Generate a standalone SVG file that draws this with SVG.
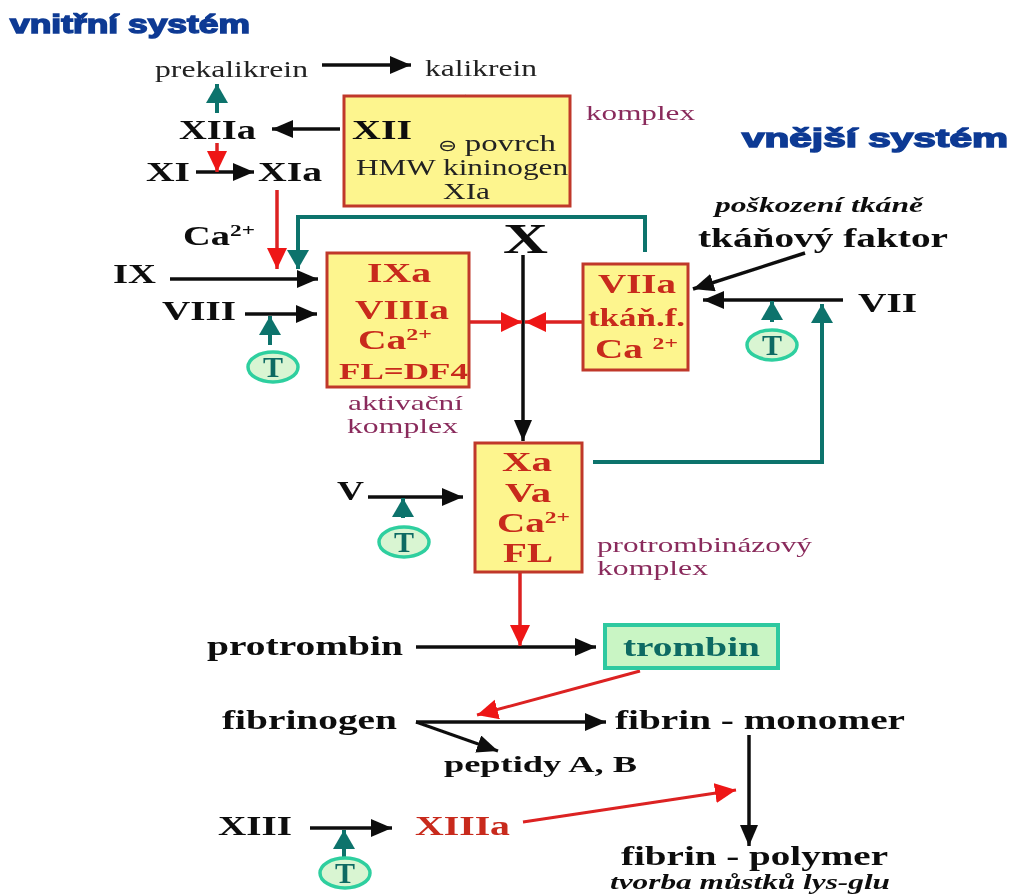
<svg xmlns="http://www.w3.org/2000/svg" width="1012" height="894" viewBox="0 0 1012 894">
<style>
text{font-family:"Liberation Serif","Times New Roman",serif;font-weight:bold;fill:#111}
.title{font-family:"Liberation Sans",Arial,sans-serif;font-weight:bold;fill:#0b3a94;stroke:#0b3a94;stroke-width:1.4}
.reg{font-weight:normal;font-size:23px;fill:#222}
.big{font-size:28px}
.red{fill:#c8291c;font-size:28px}
.lab{font-weight:normal;font-size:22px;fill:#8a2c5c}
.it{font-style:italic;font-size:21px}
.box{fill:#fdf58e;stroke:#c0392b;stroke-width:3}
.tc{fill:#d9f5d2;stroke:#2fcf9f;stroke-width:3.5}
.tt{fill:#0e6a63;font-size:30px}
.k,.r,.g{fill:none;stroke-width:3.5}
.k{stroke:#111;marker-end:url(#ak)}
.r{stroke:#dc2020;marker-end:url(#ar)}
.g{stroke:#11736c;stroke-width:4;marker-end:url(#ag)}
</style>
<defs>
<marker id="ak" markerUnits="userSpaceOnUse" markerWidth="24" markerHeight="20" refX="21" refY="9" orient="auto"><path d="M0 0L21 9L0 18z" fill="#111"/></marker>
<marker id="ar" markerUnits="userSpaceOnUse" markerWidth="24" markerHeight="22" refX="21" refY="10" orient="auto"><path d="M0 0L21 10L0 20z" fill="#ee1515"/></marker>
<marker id="ag" markerUnits="userSpaceOnUse" markerWidth="24" markerHeight="24" refX="19" refY="11" orient="auto"><path d="M0 0L19 11L0 22z" fill="#11736c"/></marker>
<filter id="soft" x="-2%" y="-2%" width="104%" height="104%"><feGaussianBlur stdDeviation="0.7"/></filter>
</defs>
<rect width="1012" height="894" fill="#fff"/>
<g filter="url(#soft)">
<g id="titles">
<text class="title" x="10" y="33" font-size="25" textLength="240" lengthAdjust="spacingAndGlyphs">vnitřní systém</text>
<text class="title" x="742" y="147" font-size="25" textLength="266" lengthAdjust="spacingAndGlyphs">vnější systém</text>
</g>
<g id="connectors">
<path class="k" d="M322 65H411"/>
<path class="k" d="M340 129H272"/>
<path class="k" d="M196 172H254"/>
<path class="k" d="M170 279H318"/>
<path class="k" d="M245 314H317"/>
<path class="k" d="M523 255V441"/>
<path class="k" d="M805 253L693 289"/>
<path class="k" d="M843 300H703"/>
<path class="k" d="M368 497H463"/>
<path class="k" d="M416 647H596"/>
<path class="k" d="M416 722H606"/>
<path class="k" style="stroke-width:3" d="M416 722L498 751"/>
<path class="k" d="M749 735V846"/>
<path class="k" d="M310 828H392"/>
<path class="r" d="M217 143V172"/>
<path class="r" d="M277 190V269"/>
<path class="r" d="M469 322H522"/>
<path class="r" d="M583 322H525"/>
<path class="r" d="M520 572V646"/>
<path class="r" style="stroke-width:3" d="M640 671L477 715"/>
<path class="r" style="stroke-width:3" d="M523 822L736 790"/>
<path class="g" d="M217 113V84"/>
<path class="g" style="stroke-width:2.5" d="M466 96L390 117"/>
<path class="g" d="M645 252V217H298V269"/>
<path class="g" d="M593 462H822V304"/>
<path class="g" d="M270 345V316"/>
<path class="g" d="M772 322V301"/>
<path class="g" d="M403 518V498"/>
<path class="g" d="M344 858V830"/>
</g>
<g id="node-kaskada">
<text class="reg" x="155" y="77" textLength="153" lengthAdjust="spacingAndGlyphs">prekalikrein</text>
<text class="reg" x="425" y="76" textLength="112" lengthAdjust="spacingAndGlyphs">kalikrein</text>
<text class="big" x="179" y="139" textLength="77" lengthAdjust="spacingAndGlyphs">XIIa</text>
<text class="big" x="146" y="181" textLength="44" lengthAdjust="spacingAndGlyphs">XI</text>
<text class="big" x="258" y="181" textLength="64" lengthAdjust="spacingAndGlyphs">XIa</text>
<text class="big" x="183" y="245" textLength="72" lengthAdjust="spacingAndGlyphs">Ca<tspan font-size="17" dy="-9">2+</tspan></text>
<text class="big" x="113" y="283" textLength="43" lengthAdjust="spacingAndGlyphs">IX</text>
<text class="big" x="162" y="320" textLength="74" lengthAdjust="spacingAndGlyphs">VIII</text>
<text x="503" y="253" font-size="43" textLength="45" lengthAdjust="spacingAndGlyphs">X</text>
<text class="big" x="337" y="500" textLength="27" lengthAdjust="spacingAndGlyphs">V</text>
</g>
<g id="node-xii">
<rect class="box" x="344" y="96" width="226" height="110"/>
<text class="big" x="352" y="139" textLength="60" lengthAdjust="spacingAndGlyphs">XII</text>
<text class="reg" x="438" y="151" textLength="118" lengthAdjust="spacingAndGlyphs"><tspan font-size="16">⊖</tspan> povrch</text>
<text class="reg" x="356" y="175" textLength="212" lengthAdjust="spacingAndGlyphs">HMW kininogen</text>
<text class="reg" x="443" y="199" textLength="47" lengthAdjust="spacingAndGlyphs">XIa</text>
<text class="lab" x="586" y="120" textLength="109" lengthAdjust="spacingAndGlyphs">komplex</text>
</g>
<g id="node-ixa">
<rect class="box" x="327" y="253" width="142" height="134"/>
<text class="red" x="367" y="282" textLength="64" lengthAdjust="spacingAndGlyphs">IXa</text>
<text class="red" x="355" y="319" textLength="94" lengthAdjust="spacingAndGlyphs">VIIIa</text>
<text class="red" x="358" y="349" textLength="74" lengthAdjust="spacingAndGlyphs">Ca<tspan font-size="17" dy="-9">2+</tspan></text>
<text class="red" x="339" y="379" style="font-size:24px" textLength="129" lengthAdjust="spacingAndGlyphs">FL=DF4</text>
<text class="lab" x="348" y="410" textLength="115" lengthAdjust="spacingAndGlyphs">aktivační</text>
<text class="lab" x="347" y="433" textLength="111" lengthAdjust="spacingAndGlyphs">komplex</text>
</g>
<g id="node-viia">
<rect class="box" x="583" y="264" width="105" height="106"/>
<text class="red" x="598" y="293" textLength="78" lengthAdjust="spacingAndGlyphs">VIIa</text>
<text class="red" style="font-size:25px" x="588" y="326" textLength="97" lengthAdjust="spacingAndGlyphs">tkáň.f.</text>
<text class="red" x="595" y="358" textLength="83" lengthAdjust="spacingAndGlyphs">Ca <tspan font-size="17" dy="-9">2+</tspan></text>
</g>
<g id="node-vii">
<text class="it" x="715" y="212" textLength="208" lengthAdjust="spacingAndGlyphs">poškození tkáně</text>
<text class="big" x="698" y="247" textLength="250" lengthAdjust="spacingAndGlyphs">tkáňový faktor</text>
<text class="big" x="858" y="312" textLength="59" lengthAdjust="spacingAndGlyphs">VII</text>
</g>
<g id="node-xa">
<rect class="box" x="475" y="443" width="107" height="129"/>
<text class="red" x="502" y="471" textLength="50" lengthAdjust="spacingAndGlyphs">Xa</text>
<text class="red" x="505" y="502" textLength="46" lengthAdjust="spacingAndGlyphs">Va</text>
<text class="red" x="497" y="532" textLength="73" lengthAdjust="spacingAndGlyphs">Ca<tspan font-size="17" dy="-9">2+</tspan></text>
<text class="red" x="503" y="562" textLength="50" lengthAdjust="spacingAndGlyphs">FL</text>
<text class="lab" x="597" y="552" textLength="215" lengthAdjust="spacingAndGlyphs">protrombinázový</text>
<text class="lab" x="597" y="575" textLength="111" lengthAdjust="spacingAndGlyphs">komplex</text>
</g>
<g id="node-t1"><ellipse class="tc" cx="273" cy="367" rx="25" ry="15"/><text class="tt" x="273" y="377" text-anchor="middle">T</text></g>
<g id="node-t2"><ellipse class="tc" cx="772" cy="345" rx="25" ry="15"/><text class="tt" x="772" y="355" text-anchor="middle">T</text></g>
<g id="node-t3"><ellipse class="tc" cx="404" cy="542" rx="25" ry="15"/><text class="tt" x="404" y="552" text-anchor="middle">T</text></g>
<g id="node-t4"><ellipse class="tc" cx="345" cy="873" rx="25" ry="15"/><text class="tt" x="345" y="883" text-anchor="middle">T</text></g>
<g id="node-trombin">
<rect x="605" y="625" width="173" height="43" fill="#c9f5c4" stroke="#2ec9a0" stroke-width="4"/>
<text x="623" y="656" font-size="28" style="fill:#0e6a63" textLength="137" lengthAdjust="spacingAndGlyphs">trombin</text>
</g>
<g id="node-vystup">
<text class="big" x="207" y="655" textLength="196" lengthAdjust="spacingAndGlyphs">protrombin</text>
<text class="big" x="222" y="729" textLength="175" lengthAdjust="spacingAndGlyphs">fibrinogen</text>
<text class="big" x="615" y="729" textLength="290" lengthAdjust="spacingAndGlyphs">fibrin - monomer</text>
<text style="font-size:24px" x="444" y="772" textLength="193" lengthAdjust="spacingAndGlyphs">peptidy A, B</text>
<text class="big" x="218" y="835" textLength="74" lengthAdjust="spacingAndGlyphs">XIII</text>
<text class="red" x="415" y="835" textLength="95" lengthAdjust="spacingAndGlyphs">XIIIa</text>
<text class="big" x="621" y="865" textLength="267" lengthAdjust="spacingAndGlyphs">fibrin - polymer</text>
<text class="it" x="610" y="889" textLength="280" lengthAdjust="spacingAndGlyphs">tvorba můstků lys-glu</text>
</g>
</g>
</svg>
